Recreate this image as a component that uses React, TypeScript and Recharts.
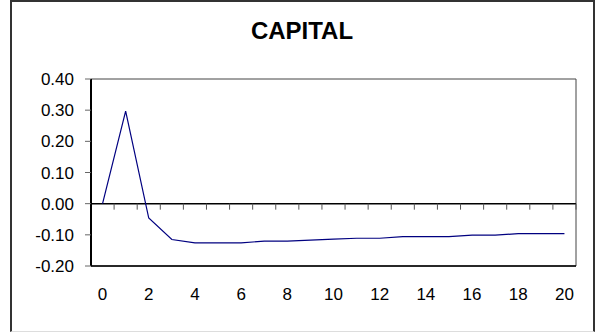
import React from "react";
import { LineChart, Line, XAxis, YAxis, ReferenceLine, ReferenceArea } from "recharts";

const periods = [0, 1, 2, 3, 4, 5, 6, 7, 8, 9, 10, 11, 12, 13, 14, 15, 16, 17, 18, 19, 20];
const capital = [
  0, 0.297, -0.046, -0.115, -0.126, -0.126, -0.126, -0.12, -0.12, -0.117, -0.114,
  -0.111, -0.111, -0.106, -0.106, -0.106, -0.101, -0.101, -0.096, -0.096, -0.096,
];
const xTicks = [0, 2, 4, 6, 8, 10, 12, 14, 16, 18, 20];
const yTicks = [-0.2, -0.1, 0, 0.1, 0.2, 0.3, 0.4];
const xDomain: [number, number] = [-0.5, 20.5];

const data = periods.map((t, i) => ({ t, v: capital[i] }));

const font = "'Liberation Sans', Arial, sans-serif";

// zero line with small tick marks between periods
function ZeroLine(props: any) {
  const { x1, x2, y1 } = props;
  const n = periods.length;
  const step = (x2 - x1) / n;
  const marks = [];
  for (let i = 1; i <= n; i++) {
    const x = x1 + i * step;
    marks.push(<line key={i} x1={x} x2={x} y1={y1} y2={y1 + 6} stroke="#555" strokeWidth={1} />);
  }
  return (
    <g>
      <line x1={x1} x2={x2} y1={y1} y2={y1} stroke="#000" strokeWidth={1.5} />
      {marks}
    </g>
  );
}

export default function App() {
  return (
    <div style={{ position: "fixed", left: 0, top: 0, width: 597, height: 332, background: "#fff" }}>
      <div
        style={{
          position: "absolute", left: 10, top: 0, width: 585, height: 332, boxSizing: "border-box",
          borderLeft: "2px solid #333", borderTop: "2px solid #333", borderRight: "2px solid #333",
          borderBottom: "1px solid #ddd",
        }}
      />
      <div
        style={{
          position: "absolute", left: 10, width: 584, top: 19, textAlign: "center",
          fontFamily: font, fontWeight: "bold", fontSize: 24, lineHeight: "24px", color: "#000",
        }}
      >
        CAPITAL
      </div>
      <div style={{ position: "absolute", left: 0, top: 0 }}>
        <LineChart width={597} height={332} data={data} margin={{ top: 79, right: 21, bottom: 0, left: 0 }}>
          <ReferenceArea x1={xDomain[0]} x2={xDomain[1]} y1={-0.2} y2={0.4} fill="none" stroke="#444" strokeWidth={1} />
          <XAxis
            dataKey="t" type="number" domain={xDomain} ticks={xTicks} allowDataOverflow
            height={66} tickLine={false} tickSize={0} tickMargin={22}
            axisLine={{ stroke: "#000", strokeWidth: 1.5 }}
            tick={{ fill: "#000", fontSize: 17, fontFamily: font }}
          />
          <YAxis
            type="number" domain={[-0.2, 0.4]} ticks={yTicks} width={91}
            tickFormatter={(v: number) => v.toFixed(2)}
            tickSize={6} tickMargin={11}
            tickLine={{ stroke: "#666" }}
            axisLine={{ stroke: "#000", strokeWidth: 2 }}
            tick={{ fill: "#000", fontSize: 17, fontFamily: font }}
          />
          <ReferenceLine y={0} shape={ZeroLine} />
          <Line dataKey="v" type="linear" stroke="#000080" strokeWidth={1.2} dot={false} isAnimationActive={false} />
        </LineChart>
      </div>
    </div>
  );
}
